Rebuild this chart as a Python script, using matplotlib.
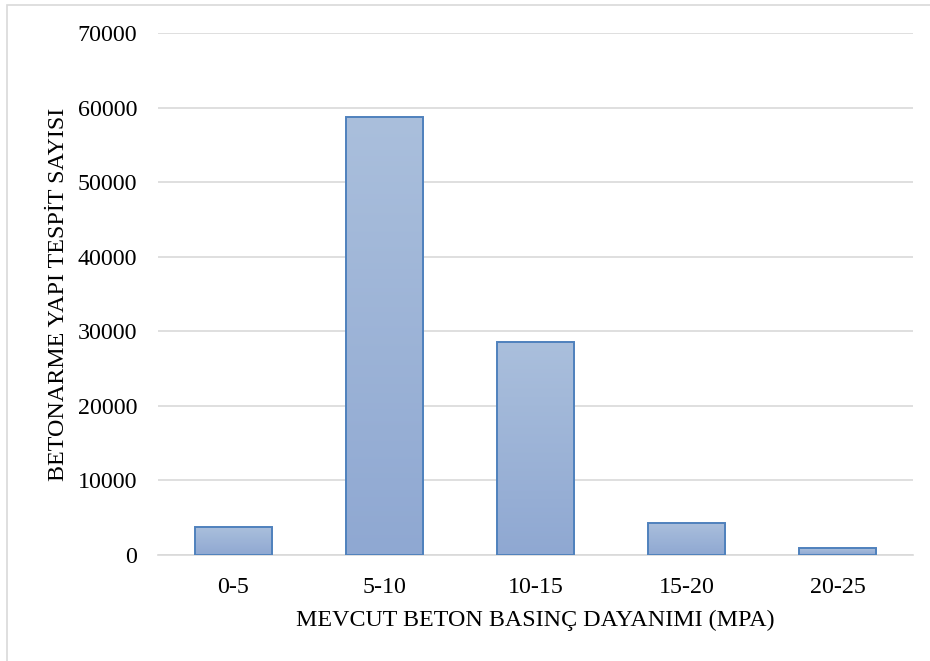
import numpy as np
import matplotlib.pyplot as plt
from matplotlib.colors import LinearSegmentedColormap
from matplotlib.patches import Rectangle

# compressive strength classes and counts
categories = ["0-5", "5-10", "10-15", "15-20", "20-25"]
counts = [3700, 58700, 28600, 4330, 900]
y_ticks = [0, 10000, 20000, 30000, 40000, 50000, 60000, 70000]

plt.rcParams['font.family'] = ['Liberation Serif', 'DejaVu Serif']
FS = 17.3

fig = plt.figure(figsize=(9.3, 6.61), dpi=100)
ax = fig.add_axes([158 / 930, 1 - 555 / 661, (913 - 158) / 930, (555 - 33) / 661])

# light outer frame
fig.patches.append(Rectangle((7 / 930, -0.01), 1.0, 1 - 5 / 661 + 0.01, transform=fig.transFigure,
                             fill=False, edgecolor="#d9d9d9", linewidth=1.2))

x = np.arange(len(categories))
width = 0.51
bars = ax.bar(x, counts, width=width, color="none", edgecolor="#4f81bd", linewidth=1.4, zorder=3)

# vertical gradient fill inside each bar
grad = LinearSegmentedColormap.from_list("bar_grad", ["#8fa8d2", "#aabfdc"])
ramp = np.linspace(0, 1, 256).reshape(-1, 1)
for b in bars:
    x0, y0 = b.get_x(), b.get_y()
    w, h = b.get_width(), b.get_height()
    im = ax.imshow(ramp, cmap=grad, aspect="auto", origin="lower",
                   extent=[x0, x0 + w, y0, y0 + h], zorder=2)
    im.set_clip_path(b)

ax.set_xlim(-0.5, len(categories) - 0.5)
ax.set_ylim(0, 70000)
ax.set_yticks(y_ticks)
ax.set_yticklabels([str(v) for v in y_ticks])
ax.set_xticks(x)
ax.set_xticklabels(categories)
ax.tick_params(axis="both", length=0, labelsize=FS, colors="#000000")
ax.tick_params(axis="y", pad=15)
ax.tick_params(axis="x", pad=15.5)

ax.grid(axis="y", color="#d9d9d9", linewidth=1.2, zorder=0)
ax.set_axisbelow(True)
for side in ["top", "right", "left"]:
    ax.spines[side].set_visible(False)
ax.spines["bottom"].set_color("#d9d9d9")
ax.spines["bottom"].set_linewidth(1.2)

ax.set_xlabel("MEVCUT BETON BASINÇ DAYANIMI (MPA)", fontsize=FS, labelpad=9)
ax.set_ylabel("BETONARME YAPI TESPİT SAYISI", fontsize=FS, labelpad=6)

fig.savefig("out.png", dpi=100)
